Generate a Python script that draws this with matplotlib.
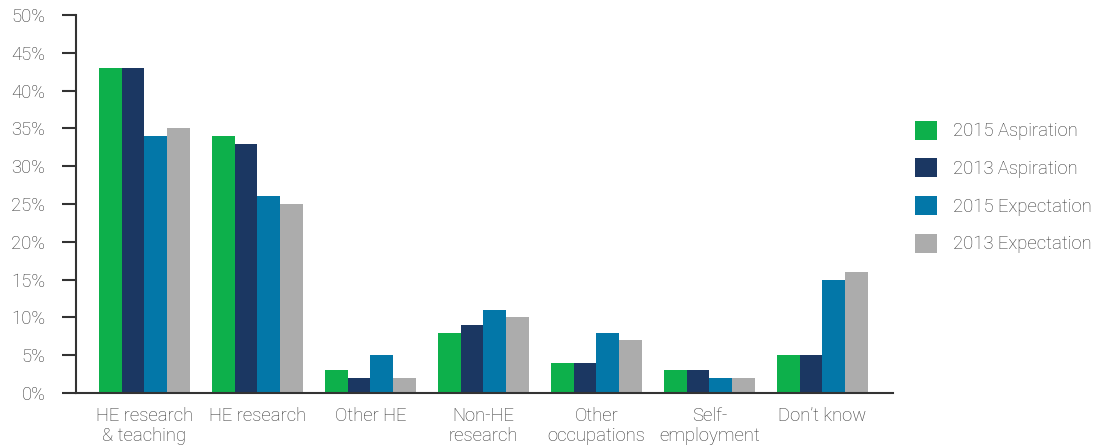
import numpy as np
import matplotlib
matplotlib.use("Agg")
from matplotlib import pyplot as plt
from matplotlib.patches import Patch

plt.rcParams['font.family'] = ['Roboto', 'DejaVu Sans']
plt.rcParams['font.weight'] = 'light'

categories = ["HE research\n& teaching", "HE research", "Other HE", "Non-HE\nresearch",
              "Other\noccupations", "Self-\nemployment", "Don\u2019t know"]
series_names = ["2015 Aspiration", "2013 Aspiration", "2015 Expectation", "2013 Expectation"]
aspiration_2015 = [43, 34, 3, 8, 4, 3, 5]
aspiration_2013 = [43, 33, 2, 9, 4, 3, 5]
expectation_2015 = [34, 26, 5, 11, 8, 2, 15]
expectation_2013 = [35, 25, 2, 10, 7, 2, 16]
colours = ["#0db04b", "#1b3762", "#0377a8", "#acacac"]

fig = plt.figure(figsize=(10.93, 4.48), dpi=100)
ax = fig.add_axes([76 / 1093, 1 - 393 / 448, (893 - 76) / 1093, (393 - 15) / 448])

x = np.arange(len(categories))
w = 0.2
all_series = [aspiration_2015, aspiration_2013, expectation_2015, expectation_2013]
for i, (vals, col) in enumerate(zip(all_series, colours)):
    ax.bar(x + (i - 1.5) * w, vals, width=w, color=col, linewidth=0)

ax.set_xlim(-0.606, len(categories) - 1 + 0.624)
ax.set_ylim(0, 50)
ax.set_yticks(range(0, 51, 5))
ax.set_yticklabels([f"{v}%" for v in range(0, 51, 5)])
ax.set_xticks(x)
ax.set_xticklabels(categories, linespacing=1.15)

for s in ["top", "right"]:
    ax.spines[s].set_visible(False)
for s in ["left", "bottom"]:
    ax.spines[s].set_color("#333333")
    ax.spines[s].set_linewidth(1.5)
ax.tick_params(axis="y", length=10, width=1.5, color="#333333", labelsize=13.3,
               labelcolor="#333333", pad=12)
ax.tick_params(axis="x", length=0, labelsize=13.3, labelcolor="#333333", pad=10)

handles = [Patch(facecolor=c, edgecolor="none") for c in colours]
fig.legend(handles, series_names, loc="center left",
           bbox_to_anchor=(915 / 1093, 1 - 187 / 448), frameon=False,
           fontsize=13.3, handlelength=1.2, handleheight=1.2, handletextpad=0.85,
           labelspacing=0.97, borderpad=0, borderaxespad=0, labelcolor="#333333")

fig.savefig("out.png", dpi=100)
